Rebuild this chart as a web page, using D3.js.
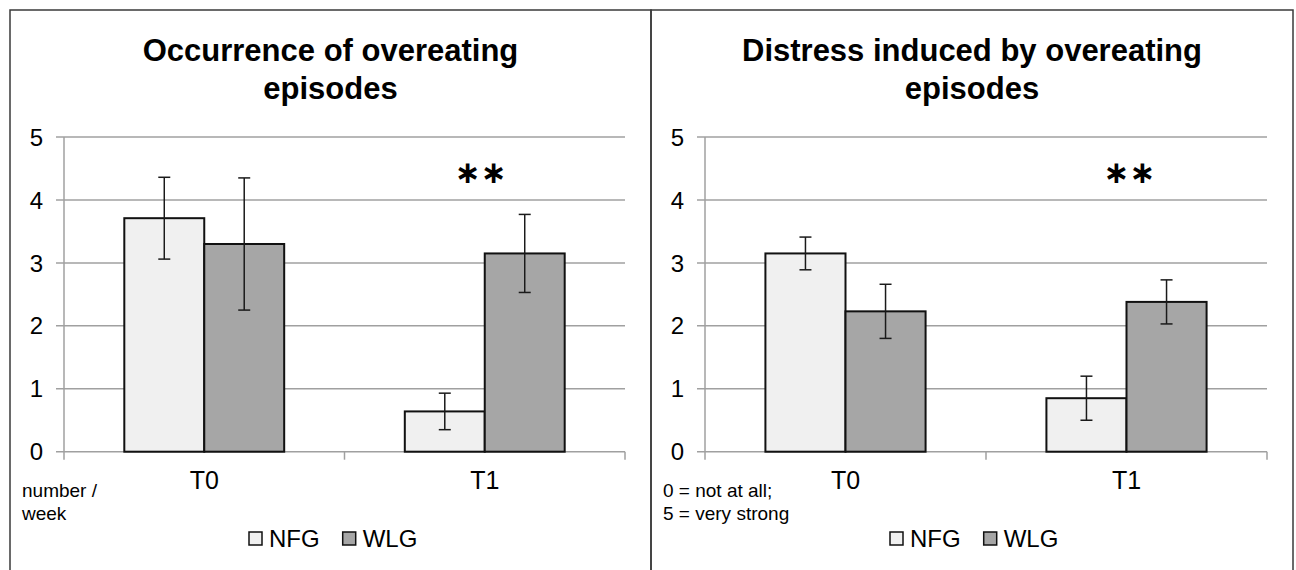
<!DOCTYPE html>
<html>
<head>
<meta charset="utf-8">
<script src="https://cdn.jsdelivr.net/npm/d3@7"></script>
<style>
    body { margin: 0; background: #fff; }
    text { font-family: "Liberation Sans", Arial, sans-serif; fill: #000; }
</style>
</head>
<body>
<div id="chart"></div>
<script>

const categories = ["T0", "T1"];
const groups = ["NFG", "WLG"];
const yTicks = [0, 1, 2, 3, 4, 5];

/* occurrence of overeating episodes (number / week) */
const occurrenceNFG = [3.71, 0.64];
const occurrenceWLG = [3.30, 3.15];
const occurrenceErrNFG = [0.65, 0.29];
const occurrenceErrWLG = [1.05, 0.62];

/* distress induced by overeating episodes (0-5) */
const distressNFG = [3.15, 0.85];
const distressWLG = [2.23, 2.38];
const distressErrNFG = [0.26, 0.35];
const distressErrWLG = [0.43, 0.35];

const significance = ["", "**"];

const width = 1296;
const height = 570;

const canvas = d3.select("#chart")
    .append("svg")
    .attr("width", width)
    .attr("height", height);

canvas.append("rect")
    .attr("width", width)
    .attr("height", height)
    .attr("fill", "#fff");

const fillScale = d3.scaleOrdinal()
    .domain(groups)
    .range(["#f0f0f0", "#a6a6a6"]);

const panels = [
    {left: 10, right: 651, title: ["Occurrence of overeating", "episodes"], note: ["number /", "week"], starShift: -4,
     nfg: occurrenceNFG, wlg: occurrenceWLG, errNfg: occurrenceErrNFG, errWlg: occurrenceErrWLG},
    {left: 651, right: 1293, title: ["Distress induced by overeating", "episodes"], note: ["0 = not at all;", "5 = very strong"], starShift: 3,
     nfg: distressNFG, wlg: distressWLG, errNfg: distressErrNFG, errWlg: distressErrWLG}
];

function drawPanel(p) {
    const g = canvas.append("g");
    const margin = {left: 54, right: 26};

    /*panel frame*/
    g.append("rect")
        .attr("x", p.left)
        .attr("y", 10)
        .attr("width", p.right - p.left)
        .attr("height", 600)
        .attr("fill", "none")
        .attr("stroke", "#3a3a3a")
        .attr("stroke-width", 1.5);

    const cx = (p.left + p.right) / 2;
    g.append("text")
        .attr("x", cx)
        .attr("y", 61)
        .attr("text-anchor", "middle")
        .attr("font-size", 31)
        .attr("font-weight", "bold")
        .text(p.title[0]);
    g.append("text")
        .attr("x", cx)
        .attr("y", 99)
        .attr("text-anchor", "middle")
        .attr("font-size", 31)
        .attr("font-weight", "bold")
        .text(p.title[1]);

    const xScale = d3.scaleBand()
        .domain(categories)
        .range([p.left + margin.left, p.right - margin.right])
        .paddingInner(0.43)
        .paddingOuter(0.215);

    const x1 = d3.scaleBand()
        .domain(groups)
        .range([0, xScale.bandwidth()]);

    const yScale = d3.scaleLinear()
        .domain([0, 5])
        .range([451.7, 137]);

    const plotLeft = p.left + margin.left;
    const plotRight = p.right - margin.right;

    /*gridlines and y ticks*/
    g.selectAll(".grid")
        .data(yTicks)
        .enter()
        .append("line")
            .attr("x1", plotLeft - 8)
            .attr("x2", plotRight)
            .attr("y1", d => yScale(d))
            .attr("y2", d => yScale(d))
            .attr("stroke", "#a0a0a0")
            .attr("stroke-width", 1.5);

    g.selectAll(".ylabel")
        .data(yTicks)
        .enter()
        .append("text")
            .attr("x", plotLeft - 21)
            .attr("y", d => yScale(d))
            .attr("dy", "0.36em")
            .attr("text-anchor", "end")
            .attr("font-size", 24)
            .text(d => d);

    g.append("line")
        .attr("x1", plotLeft)
        .attr("x2", plotLeft)
        .attr("y1", yScale(5))
        .attr("y2", yScale(0))
        .attr("stroke", "#a0a0a0")
        .attr("stroke-width", 1.5);

    /*category ticks on x axis*/
    const step = xScale.step();
    g.selectAll(".xtick")
        .data([0, 1, 2])
        .enter()
        .append("line")
            .attr("x1", d => plotLeft + d * step)
            .attr("x2", d => plotLeft + d * step)
            .attr("y1", yScale(0))
            .attr("y2", yScale(0) + 8)
            .attr("stroke", "#a0a0a0")
            .attr("stroke-width", 1.5);

    g.selectAll(".xlabel")
        .data(categories)
        .enter()
        .append("text")
            .attr("x", d => xScale(d) + xScale.bandwidth() / 2)
            .attr("y", 489)
            .attr("text-anchor", "middle")
            .attr("font-size", 25)
            .text(d => d);

    /*bars*/
    const rows = [];
    categories.forEach(function(c, i) {
        rows.push({cat: c, group: "NFG", value: p.nfg[i], err: p.errNfg[i]});
        rows.push({cat: c, group: "WLG", value: p.wlg[i], err: p.errWlg[i]});
    });

    g.selectAll(".bar")
        .data(rows)
        .enter()
        .append("rect")
            .attr("x", d => xScale(d.cat) + x1(d.group))
            .attr("y", d => yScale(d.value))
            .attr("width", x1.bandwidth())
            .attr("height", d => yScale(0) - yScale(d.value))
            .attr("fill", d => fillScale(d.group))
            .attr("stroke", "#111")
            .attr("stroke-width", 2);

    /*error bars*/
    const errs = g.selectAll(".err")
        .data(rows)
        .enter()
        .append("g")
            .attr("stroke", "#1a1a1a")
            .attr("stroke-width", 1.5)
            .attr("transform", d => `translate(${xScale(d.cat) + x1(d.group) + x1.bandwidth() / 2},0)`);

    errs.append("line")
        .attr("y1", d => yScale(d.value + d.err))
        .attr("y2", d => yScale(d.value - d.err));
    errs.append("line")
        .attr("x1", -6).attr("x2", 6)
        .attr("y1", d => yScale(d.value + d.err))
        .attr("y2", d => yScale(d.value + d.err));
    errs.append("line")
        .attr("x1", -6).attr("x2", 6)
        .attr("y1", d => yScale(d.value - d.err))
        .attr("y2", d => yScale(d.value - d.err));

    /*significance stars*/
    g.selectAll(".sig")
        .data(categories)
        .enter()
        .append("text")
            .attr("x", d => xScale(d) + xScale.bandwidth() / 2 + p.starShift)
            .attr("y", 183)
            .attr("text-anchor", "middle")
            .attr("font-size", 31)
            .attr("font-weight", "bold")
            .style("font-family", "DejaVu Sans")
            .text((d, i) => significance[i].replace(/\*/g, "\u2217"));

    /*unit note*/
    g.append("text")
        .attr("x", p.left + 12)
        .attr("y", 497)
        .attr("font-size", 19)
        .text(p.note[0]);
    g.append("text")
        .attr("x", p.left + 12)
        .attr("y", 520)
        .attr("font-size", 19)
        .text(p.note[1]);

    /*legend*/
    const legendX = [p.left + 239, p.left + 332.7];
    const legend = g.selectAll(".legend")
        .data(groups)
        .enter()
        .append("g")
            .attr("transform", (d, i) => `translate(${legendX[i]},0)`);

    legend.append("rect")
        .attr("x", 0)
        .attr("y", 532)
        .attr("width", 13)
        .attr("height", 13)
        .attr("fill", d => fillScale(d))
        .attr("stroke", "#111")
        .attr("stroke-width", 1.5);

    legend.append("text")
        .attr("x", 20)
        .attr("y", 546.7)
        .attr("font-size", 24)
        .text(d => d);
}

panels.forEach(drawPanel);

</script>
</body>
</html>
